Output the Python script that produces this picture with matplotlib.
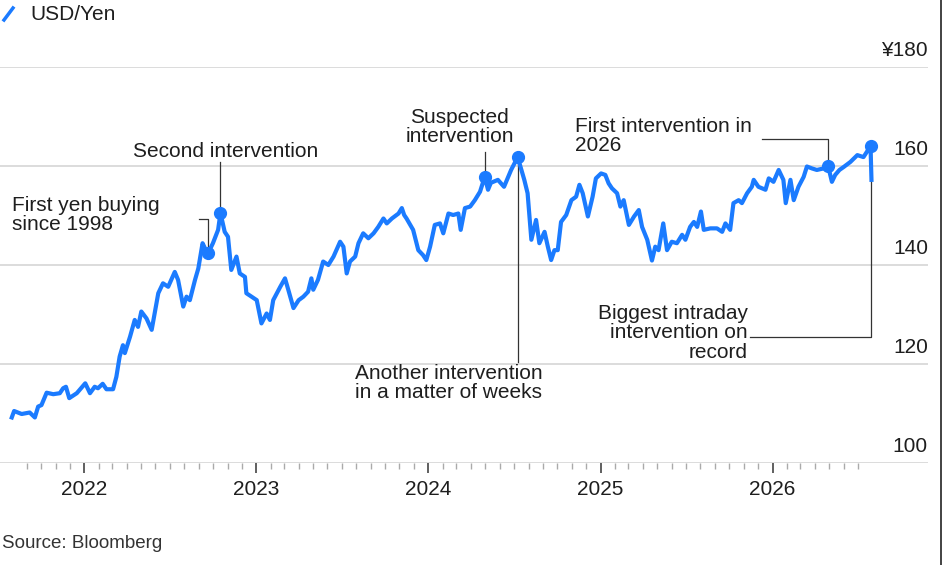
import numpy as np
import pandas as pd
import matplotlib
matplotlib.use("Agg")
import matplotlib.pyplot as plt
import matplotlib.dates as mdates
from matplotlib.lines import Line2D

plt.rcParams['font.family'] = ['Liberation Sans', 'DejaVu Sans']

# USD/JPY
dates = ['2021-07-31', '2021-08-05', '2021-08-21', '2021-09-07', '2021-09-18', '2021-09-25',
         '2021-10-02', '2021-10-13', '2021-10-27', '2021-11-10', '2021-11-17', '2021-11-23',
         '2021-11-30', '2021-12-16', '2022-01-03', '2022-01-13', '2022-01-23', '2022-01-30',
         '2022-02-09', '2022-02-17', '2022-03-03', '2022-03-10', '2022-03-17', '2022-03-24',
         '2022-03-28', '2022-04-08', '2022-04-18', '2022-04-25', '2022-05-02', '2022-05-13',
         '2022-05-24', '2022-06-07', '2022-06-17', '2022-06-28', '2022-07-12', '2022-07-19',
         '2022-07-30', '2022-08-06', '2022-08-13', '2022-08-24', '2022-08-31', '2022-09-09',
         '2022-09-14', '2022-09-21', '2022-10-01', '2022-10-12', '2022-10-17', '2022-10-26',
         '2022-11-02', '2022-11-09', '2022-11-20', '2022-11-27', '2022-12-08', '2022-12-11',
         '2022-12-22', '2023-01-02', '2023-01-12', '2023-01-23', '2023-01-30', '2023-02-06',
         '2023-02-21', '2023-03-03', '2023-03-10', '2023-03-21', '2023-04-01', '2023-04-11',
         '2023-04-21', '2023-04-28', '2023-05-02', '2023-05-12', '2023-05-23', '2023-06-03',
         '2023-06-14', '2023-06-28', '2023-07-05', '2023-07-12', '2023-07-19', '2023-07-30',
         '2023-08-06', '2023-08-16', '2023-08-27', '2023-09-07', '2023-09-17', '2023-09-28',
         '2023-10-05', '2023-10-16', '2023-10-30', '2023-11-06', '2023-11-11', '2023-11-16',
         '2023-11-30', '2023-12-11', '2023-12-21', '2023-12-28', '2024-01-05', '2024-01-15',
         '2024-01-26', '2024-02-02', '2024-02-13', '2024-02-23', '2024-03-05', '2024-03-10',
         '2024-03-19', '2024-03-30', '2024-04-09', '2024-04-20', '2024-04-30', '2024-05-07',
         '2024-05-13', '2024-05-28', '2024-06-10', '2024-06-25', '2024-07-09', '2024-07-23',
         '2024-07-30', '2024-08-07', '2024-08-17', '2024-08-24', '2024-09-04', '2024-09-11',
         '2024-09-18', '2024-09-25', '2024-10-02', '2024-10-09', '2024-10-20', '2024-10-31',
         '2024-11-10', '2024-11-17', '2024-11-24', '2024-12-05', '2024-12-15', '2024-12-22',
         '2025-01-02', '2025-01-11', '2025-01-18', '2025-01-25', '2025-02-05', '2025-02-12',
         '2025-02-19', '2025-03-02', '2025-03-13', '2025-03-23', '2025-03-30', '2025-04-10',
         '2025-04-20', '2025-04-27', '2025-05-04', '2025-05-14', '2025-05-22', '2025-06-01',
         '2025-06-12', '2025-06-23', '2025-06-30', '2025-07-10', '2025-07-18', '2025-07-25',
         '2025-08-02', '2025-08-08', '2025-08-22', '2025-09-05', '2025-09-16', '2025-09-23',
         '2025-10-03', '2025-10-10', '2025-10-21', '2025-10-28', '2025-11-08', '2025-11-18',
         '2025-11-22', '2025-12-02', '2025-12-17', '2025-12-24', '2026-01-03', '2026-01-14',
         '2026-01-24', '2026-01-29', '2026-02-08', '2026-02-15', '2026-02-25', '2026-03-08',
         '2026-03-15', '2026-03-26', '2026-04-05', '2026-04-19', '2026-04-29', '2026-05-07',
         '2026-05-14', '2026-05-23', '2026-06-01', '2026-06-15', '2026-06-30', '2026-07-13',
         '2026-07-28', '2026-07-30']
usdjpy = [109.2, 110.5, 109.9, 110.2, 109.2, 111.4,
          111.7, 114.2, 113.9, 114.1, 115.1, 115.4,
          113.1, 114.1, 116.1, 114.1, 115.4, 115.1,
          116.0, 114.9, 114.9, 117.4, 121.5, 123.8,
          122.2, 125.5, 128.9, 127.5, 130.6, 129.2,
          126.9, 134.3, 136.3, 135.6, 138.6, 137.0,
          131.6, 133.6, 132.9, 137.0, 139.3, 144.4,
          143.4, 142.4, 144.4, 147.1, 150.5, 146.7,
          145.7, 139.0, 141.7, 138.3, 137.6, 134.3,
          133.6, 132.9, 128.2, 130.2, 128.9, 132.9,
          135.6, 137.3, 135.0, 131.3, 132.9, 133.6,
          134.6, 137.3, 135.0, 137.0, 140.7, 140.0,
          141.7, 144.7, 143.7, 138.3, 140.7, 141.7,
          144.4, 146.4, 145.4, 146.4, 147.7, 149.4,
          148.4, 149.4, 150.4, 151.5, 150.1, 149.4,
          147.1, 143.0, 142.0, 141.0, 143.7, 148.1,
          148.4, 146.4, 150.4, 150.1, 150.4, 147.1,
          151.5, 151.8, 153.1, 154.8, 157.8, 155.2,
          156.6, 157.2, 155.8, 159.2, 161.8, 157.2,
          154.5, 145.1, 149.1, 144.4, 146.7, 143.7,
          141.0, 143.0, 143.0, 148.7, 150.1, 153.1,
          153.8, 156.2, 154.5, 149.8, 153.8, 157.5,
          158.5, 158.2, 156.5, 155.5, 154.5, 151.8,
          153.1, 148.1, 149.8, 151.1, 147.7, 145.1,
          140.9, 143.7, 143.0, 148.4, 143.0, 144.7,
          144.4, 146.1, 145.1, 147.7, 148.7, 147.7,
          150.8, 147.1, 147.4, 147.4, 146.7, 148.4,
          147.1, 152.5, 153.1, 152.5, 154.5, 155.8,
          157.2, 155.8, 155.2, 157.5, 156.8, 159.2,
          157.2, 152.5, 157.2, 153.1, 155.8, 157.8,
          159.9, 159.5, 159.2, 159.5, 160.0, 156.8,
          158.2, 159.2, 159.8, 160.8, 162.2, 161.8,
          164.0, 157.2]

event_dates = ['2022-09-21', '2022-10-17', '2024-04-30', '2024-07-09', '2026-04-29', '2026-07-28']
event_values = [142.4, 150.5, 157.8, 161.8, 160.0, 164.0]

yticks = [100, 120, 140, 160, 180]
ytick_labels = ['100', '120', '140', '160', '¥180']

blue = '#1b7bff'
ink = '#1e1e1e'
d = pd.to_datetime

W, H = 944, 565
fig = plt.figure(figsize=(W / 100, H / 100), dpi=100)
ax = fig.add_axes([0, (H - 463) / H, 928 / W, (463 - 67) / H])

ax.plot(d(dates), usdjpy, color=blue, lw=3.0, solid_joinstyle='round', zorder=3)
ax.plot(d(event_dates), event_values, 'o', color=blue, ms=8.5, zorder=4)

ax.set_xlim(d('2021-07-06'), d('2026-11-27'))
ax.set_ylim(100, 180)

for s in ax.spines.values():
    s.set_visible(False)
ax.set_yticks(yticks)
ax.tick_params(axis='y', left=False, labelleft=False)
ax.grid(axis='y', color='#d9d9d9', lw=1.3)
ax.set_axisbelow(True)

for v, lab in zip(yticks, ytick_labels):
    ax.annotate(lab, xy=(1, v), xycoords=('axes fraction', 'data'), xytext=(0, 5),
                textcoords='offset points', ha='right', va='bottom', fontsize=15, color=ink)

# x axis: years + monthly minor ticks
ax.xaxis.set_major_locator(mdates.YearLocator())
ax.xaxis.set_major_formatter(mdates.DateFormatter('%Y'))
months = pd.date_range('2021-09-01', '2026-07-01', freq='MS')
ax.xaxis.set_minor_locator(matplotlib.ticker.FixedLocator(mdates.date2num(months)))
ax.tick_params(axis='x', which='major', length=7.5, width=1.2, color='#444444',
               labelsize=15, labelcolor=ink, pad=5)
ax.tick_params(axis='x', which='minor', length=4, width=1, color='#aaaaaa')

# annotations
line_kw = dict(color='#333333', lw=0.9, zorder=2)
txt_kw = dict(fontsize=15, color=ink, linespacing=1.02)

ax.text(d('2021-07-31'), 150.1, 'First yen buying\nsince 1998', ha='left', va='center', **txt_kw)
ax.plot(d(['2022-09-02', '2022-09-21', '2022-09-21']), [149.3, 149.3, 142.4], **line_kw)

ax.text(d('2022-10-27'), 163.0, 'Second intervention', ha='center', va='center', **txt_kw)
ax.plot(d(['2022-10-17', '2022-10-17']), [160.8, 150.5], **line_kw)

ax.text(d('2024-03-08'), 167.9, 'Suspected\nintervention', ha='center', va='center', **txt_kw)
ax.plot(d(['2024-04-30', '2024-04-30']), [162.8, 157.8], **line_kw)

ax.text(d('2024-02-14'), 116.2, 'Another intervention\nin a matter of weeks', ha='center',
        va='center', **txt_kw)
ax.plot(d(['2024-07-09', '2024-07-09']), [161.8, 120.4], **line_kw)

ax.text(d('2024-11-08'), 166.1, 'First intervention in\n2026', ha='left', va='center', **txt_kw)
ax.plot(d(['2025-12-10', '2026-04-29', '2026-04-29']), [165.5, 165.5, 160.0], **line_kw)

ax.text(d('2025-11-10'), 126.3, 'Biggest intraday\nintervention on\nrecord', ha='right',
        va='center', multialignment='right', **txt_kw)
ax.plot(d(['2025-11-14', '2026-07-30', '2026-07-30']), [125.5, 125.5, 164.0], **line_kw)

# header and footer
fig.add_artist(Line2D([4 / W, 13 / W], [1 - 20 / H, 1 - 8 / H], color=blue, lw=2.5))
fig.text(30 / W, 1 - 14 / H, 'USD/Yen', fontsize=15, color=ink, va='center', ha='left')
fig.text(2 / W, 1 - 543 / H, 'Source: Bloomberg', fontsize=13.5, color='#333333',
         va='center', ha='left')
fig.add_artist(Line2D([941 / W, 941 / W], [0, 1], color='#222222', lw=1.2))

fig.savefig('out.png', dpi=100, facecolor='white')
